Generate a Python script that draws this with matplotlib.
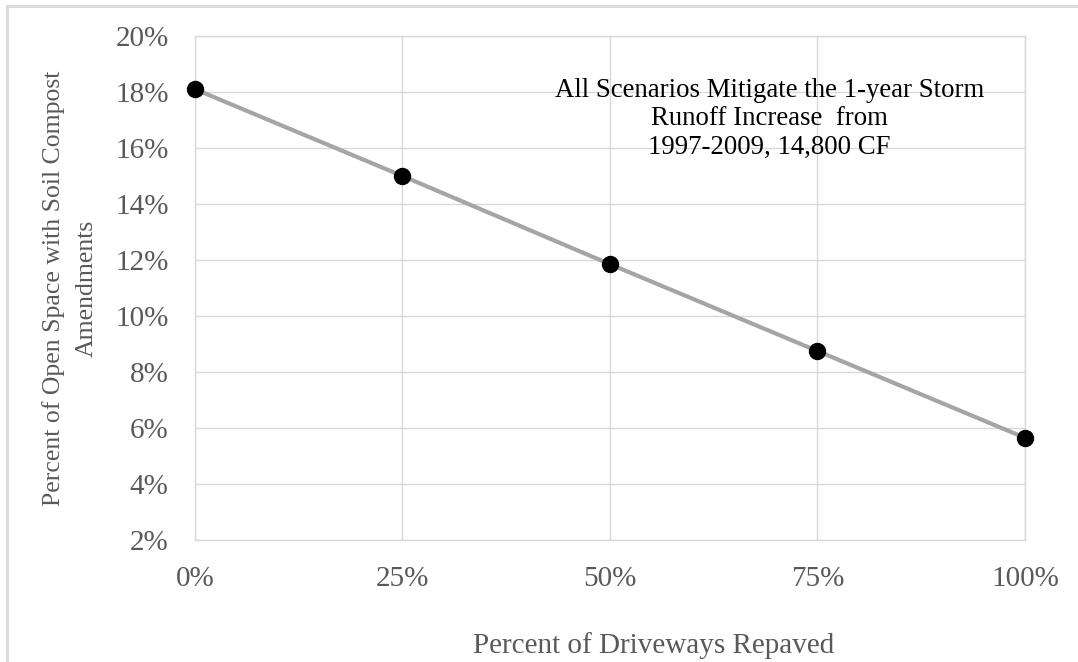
import matplotlib
matplotlib.use('Agg')
import matplotlib.pyplot as plt
from matplotlib.ticker import FuncFormatter
from matplotlib.lines import Line2D

plt.rcParams['font.family'] = ['Liberation Serif', 'DejaVu Serif']

# data
repaved = [0, 25, 50, 75, 100]
compost = [18.1, 15.0, 11.85, 8.75, 5.65]
xticks = [0, 25, 50, 75, 100]
yticks = [2, 4, 6, 8, 10, 12, 14, 16, 18, 20]

fig = plt.figure(figsize=(10.78, 6.62), dpi=100)
ax = fig.add_axes([0.1809, 0.1843, 0.7699, 0.7613])

ax.plot(repaved, compost, color='#a5a5a5', lw=3, zorder=3)
ax.plot(repaved, compost, 'o', color='black', ms=11.5, zorder=4, clip_on=False)

ax.set_xlim(0, 100)
ax.set_ylim(2, 20)
ax.set_xticks(xticks)
ax.set_yticks(yticks)
ax.xaxis.set_major_formatter(FuncFormatter(lambda v, p: '%d%%' % v))
ax.yaxis.set_major_formatter(FuncFormatter(lambda v, p: '%d%%' % v))
ax.grid(True, color='#d9d9d9', lw=1)
ax.set_axisbelow(True)
for s in ax.spines.values():
    s.set_color('#d9d9d9')
    s.set_linewidth(1)
ax.tick_params(length=0, labelsize=21, labelcolor='#595959')
ax.tick_params(axis='x', pad=19)
ax.tick_params(axis='y', pad=19)

ax.set_xlabel('Percent of Driveways Repaved', fontsize=21, color='#595959')
ax.xaxis.set_label_coords(0.552, -0.21)
ax.xaxis.label.set_va('center')
ax.set_ylabel('Percent of Open Space with Soil Compost\nAmendments', fontsize=18.5,
              color='#595959', linespacing=1.65)
ax.yaxis.set_label_coords(-0.151, 0.5)
ax.yaxis.label.set_va('center')

ax.text(69.2, 17.04, 'All Scenarios Mitigate the 1-year Storm\nRunoff Increase  from\n1997-2009, 14,800 CF',
        ha='center', va='center', fontsize=19.3, color='black', linespacing=1.18)

# outer chart frame
fig.add_artist(Line2D([7/1078, 1], [1 - 6/662, 1 - 6/662], color='#d9d9d9', lw=2))
fig.add_artist(Line2D([7/1078, 7/1078], [0, 1 - 6/662], color='#d9d9d9', lw=2))

fig.savefig('out.png', dpi=100)
